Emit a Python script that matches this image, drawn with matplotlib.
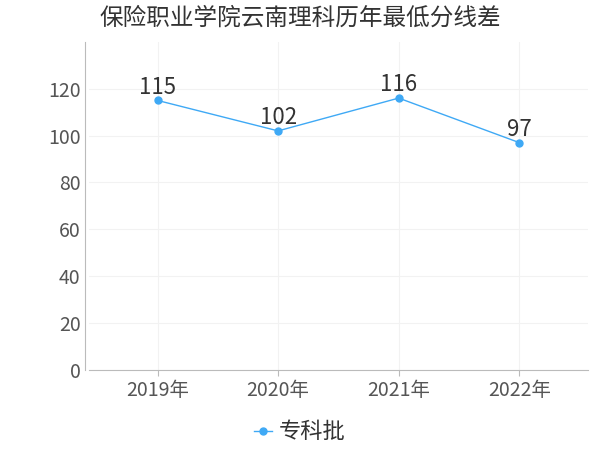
import matplotlib
matplotlib.use("Agg")
import matplotlib.pyplot as plt

plt.rcParams['font.family'] = ['Noto Sans CJK SC', 'DejaVu Sans']

# data
years = ['2019年', '2020年', '2021年', '2022年']
scores = [115, 102, 116, 97]
series_name = '专科批'
title = '保险职业学院云南理科历年最低分线差'

line_color = '#3fa9f5'

fig = plt.figure(figsize=(6, 4.5), dpi=100)
ax = fig.add_axes([0.148, 0.178, 0.832, 0.729])

x = list(range(len(years)))
ax.plot(x, scores, color=line_color, linewidth=1, marker='o', markersize=5, label=series_name)

# value labels
for xi, v in zip(x, scores):
    ax.text(xi, v + 0.8, str(v), ha='center', va='bottom', fontsize=16, color='#333333')

ax.set_xlim(-0.57, 3.57)
ax.set_ylim(0, 140)
ax.set_yticks([0, 20, 40, 60, 80, 100, 120])
ax.set_xticks(x)
ax.set_xticklabels(years)

ax.grid(True, color='#f2f2f2', linewidth=0.8)
ax.set_axisbelow(True)

for side in ['top', 'right']:
    ax.spines[side].set_visible(False)
ax.spines['left'].set_color('#bbbbbb')
ax.spines['bottom'].set_color('#bbbbbb')
ax.spines['left'].set_position(('outward', 3))

ax.tick_params(axis='x', colors='#bbbbbb', labelcolor='#555555', labelsize=14, length=4, pad=3)
ax.tick_params(axis='y', colors='#bbbbbb', labelcolor='#555555', labelsize=14, length=0, pad=3)

fig.suptitle(title, x=0.5, y=0.985, fontsize=17, color='#333333', va='top')

# legend centred on the figure, below the axis
ax.legend(loc='center', bbox_to_anchor=(0.5, 0.04), bbox_transform=fig.transFigure,
          frameon=False, fontsize=16, handlelength=0.8, handletextpad=0.3,
          labelcolor='#333333')

fig.savefig('out.png', dpi=100)
